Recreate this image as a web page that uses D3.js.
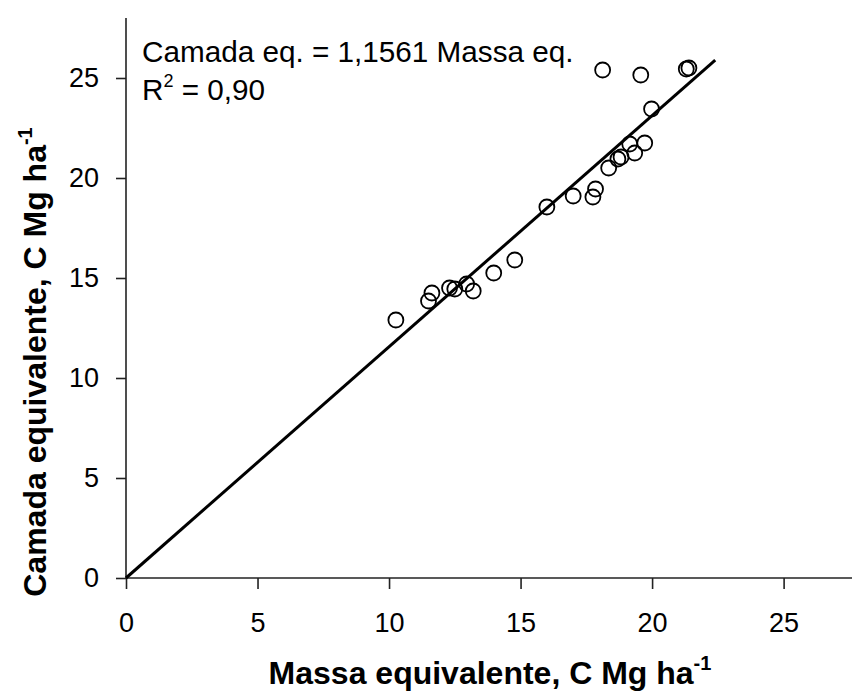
<!DOCTYPE html>
<html>
<head>
<meta charset="utf-8">
<script src="https://cdn.jsdelivr.net/npm/d3@7"></script>
<style>
  html, body { margin: 0; padding: 0; background: #fff; }
  svg { display: block; font-family: "Liberation Sans", Arial, sans-serif; }
</style>
</head>
<body>
<svg id="chart" width="855" height="696"></svg>
<script>
// Carbon stocks: equivalent mass (x) vs equivalent layer (y), Mg ha-1
const massaEq  = [10.26, 11.63, 11.5, 12.3, 12.5, 12.95, 13.2, 13.98, 14.78,
                  16.0, 17.0, 17.75, 17.85, 18.35, 18.7, 18.82, 19.15, 19.34, 19.72,
                  19.98, 18.12, 19.57, 21.3, 21.4];
const camadaEq = [12.9, 14.25, 13.85, 14.5, 14.45, 14.7, 14.35, 15.25, 15.9,
                  18.55, 19.1, 19.05, 19.45, 20.5, 20.95, 21.05, 21.7, 21.25, 21.75,
                  23.45, 25.4, 25.15, 25.45, 25.5];
const slope = 1.1561;
const fitXMax = 22.4;
const xTicks = [0, 5, 10, 15, 20, 25];
const yTicks = [0, 5, 10, 15, 20, 25];

const svg = d3.select("#chart");
const x = d3.scaleLinear().domain([0, 27.6]).range([126, 852]);
const y = d3.scaleLinear().domain([0, 28]).range([578, 18]);

// minor ticks every unit
const xMinor = d3.range(0, 28, 1);
const yMinor = d3.range(0, 29, 1);

const axisColor = "#222";
const fontFamily = "Liberation Sans, Arial, sans-serif";

// x axis
const gx = svg.append("g").attr("transform", `translate(0,${y(0)})`);
gx.call(d3.axisBottom(x).tickValues(xMinor).tickSize(9).tickFormat(""))
  .call(g => g.select(".domain").remove());
gx.call(d3.axisBottom(x).tickValues(xTicks).tickSize(11).tickFormat(d3.format("d")).tickPadding(24))
  .call(g => g.select(".domain").remove());
gx.attr("font-size", 27).attr("font-family", fontFamily);
gx.selectAll(".tick line").attr("stroke", axisColor).attr("stroke-width", 1.6);
gx.selectAll(".tick text").attr("fill", "#000");
gx.append("line").attr("x1", x(0)).attr("x2", x(27.6)).attr("y1", 0).attr("y2", 0)
  .attr("stroke", axisColor).attr("stroke-width", 1.6);

// y axis
const gy = svg.append("g").attr("transform", `translate(${x(0)},0)`);
gy.call(d3.axisLeft(y).tickValues(yMinor).tickSize(8).tickFormat(""))
  .call(g => g.select(".domain").remove());
gy.call(d3.axisLeft(y).tickValues(yTicks).tickSize(10).tickFormat(d3.format("d")).tickPadding(17))
  .call(g => g.select(".domain").remove());
gy.attr("font-size", 27).attr("font-family", fontFamily);
gy.selectAll(".tick line").attr("stroke", axisColor).attr("stroke-width", 1.6);
gy.selectAll(".tick text").attr("fill", "#000");
gy.append("line").attr("x1", 0).attr("x2", 0).attr("y1", y(0)).attr("y2", y(28))
  .attr("stroke", axisColor).attr("stroke-width", 1.6);

// regression line through the origin
svg.append("line")
  .attr("x1", x(0)).attr("y1", y(0))
  .attr("x2", x(fitXMax)).attr("y2", y(slope * fitXMax))
  .attr("stroke", "#000").attr("stroke-width", 3);

// observations
svg.append("g").selectAll("circle")
  .data(massaEq.map((m, i) => [m, camadaEq[i]]))
  .join("circle")
  .attr("cx", d => x(d[0])).attr("cy", d => y(d[1]))
  .attr("r", 7.5)
  .attr("fill", "none").attr("stroke", "#000").attr("stroke-width", 1.8);

// equation and R²
svg.append("text").attr("x", 142).attr("y", 62).attr("font-size", 29.7)
  .text("Camada eq. = 1,1561 Massa eq.");
const r2 = svg.append("text").attr("x", 142).attr("y", 100).attr("font-size", 29.7);
r2.append("tspan").text("R");
r2.append("tspan").attr("font-size", 18).attr("dy", -13).text("2");
r2.append("tspan").attr("dy", 13).text(" = 0,90");

// axis titles
const xt = svg.append("text").attr("x", 490).attr("y", 684)
  .attr("text-anchor", "middle").attr("font-size", 32).attr("font-weight", "bold");
xt.append("tspan").text("Massa equivalente, C Mg ha");
xt.append("tspan").attr("font-size", 20).attr("dy", -14).text("-1");

const yt = svg.append("text")
  .attr("transform", `translate(46,362) rotate(-90)`)
  .attr("text-anchor", "middle").attr("font-size", 32).attr("font-weight", "bold");
yt.append("tspan").text("Camada equivalente, C Mg ha");
yt.append("tspan").attr("font-size", 20).attr("dy", -14).text("-1");
</script>
</body>
</html>
